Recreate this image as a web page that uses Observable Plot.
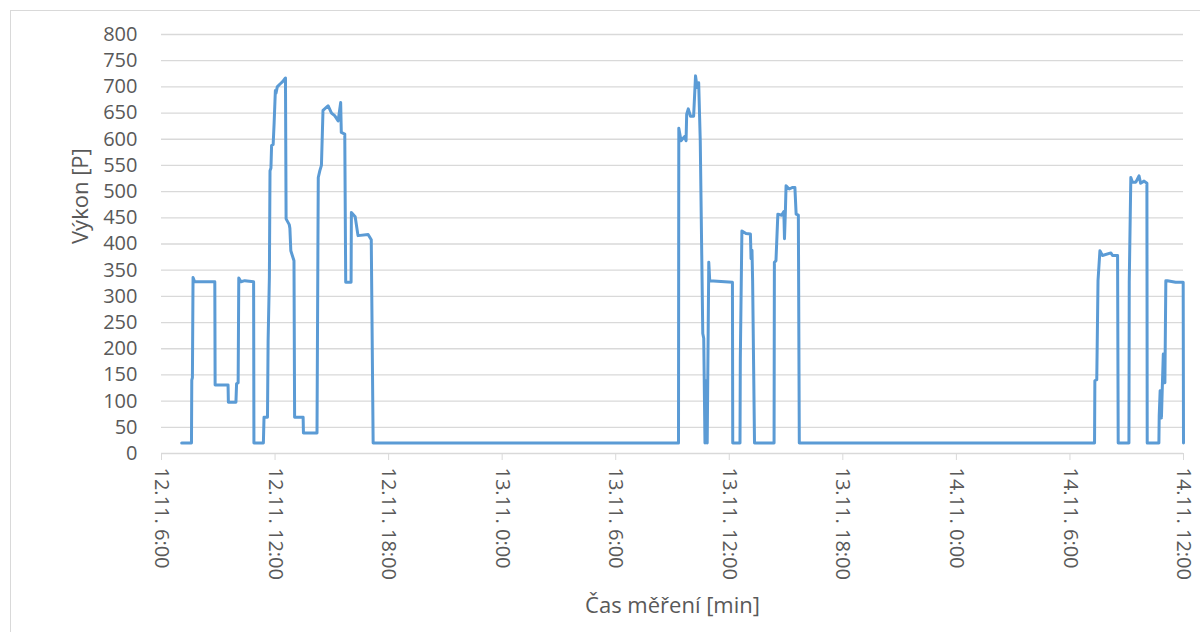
<!DOCTYPE html>
<html>
<head>
<meta charset="utf-8">
<script src="https://cdn.jsdelivr.net/npm/d3@7"></script>
<script src="https://cdn.jsdelivr.net/npm/@observablehq/plot@0.6"></script>
<style>
  html, body { margin: 0; padding: 0; background: #fff; }
  #wrap { position: relative; width: 1200px; height: 632px; overflow: hidden; }
  #border { position: absolute; left: 10px; top: 10px; width: 1220px; height: 660px; border: 1px solid #d9d9d9; box-sizing: border-box; }
  #chart { position: absolute; left: 0; top: 0; }
</style>
</head>
<body>
<div id="wrap"><div id="border"></div><div id="chart"></div></div>
<script>
const times = [
  "12.11. 7:04","12.11. 7:35","12.11. 7:36","12.11. 7:38","12.11. 7:40","12.11. 7:45","12.11. 8:49","12.11. 8:50",
  "12.11. 9:31","12.11. 9:32","12.11. 9:56","12.11. 9:58","12.11. 10:03","12.11. 10:05","12.11. 10:12","12.11. 10:24",
  "12.11. 10:52","12.11. 10:53","12.11. 11:23","12.11. 11:25","12.11. 11:36","12.11. 11:38","12.11. 11:42","12.11. 11:44",
  "12.11. 11:47","12.11. 11:49","12.11. 11:54","12.11. 11:57","12.11. 12:01","12.11. 12:03","12.11. 12:07","12.11. 12:15",
  "12.11. 12:24","12.11. 12:33","12.11. 12:35","12.11. 12:45","12.11. 12:47","12.11. 12:50","12.11. 13:00","12.11. 13:02",
  "12.11. 13:29","12.11. 13:30","12.11. 14:13","12.11. 14:15","12.11. 14:17","12.11. 14:22","12.11. 14:27","12.11. 14:32",
  "12.11. 14:48","12.11. 14:59","12.11. 15:09","12.11. 15:20","12.11. 15:28","12.11. 15:30","12.11. 15:41","12.11. 15:44",
  "12.11. 16:01","12.11. 16:02","12.11. 16:14","12.11. 16:23","12.11. 16:55","12.11. 17:05","12.11. 17:11",
  "13.11. 9:19","13.11. 9:20","13.11. 9:27","13.11. 9:38","13.11. 9:43","13.11. 9:45","13.11. 9:50","13.11. 9:57",
  "13.11. 10:07","13.11. 10:13","13.11. 10:18","13.11. 10:23","13.11. 10:28","13.11. 10:36","13.11. 10:39","13.11. 10:43",
  "13.11. 10:47","13.11. 10:50","13.11. 10:55","13.11. 10:58","13.11. 12:10","13.11. 12:11","13.11. 12:34","13.11. 12:35",
  "13.11. 12:40","13.11. 12:53","13.11. 13:07","13.11. 13:09","13.11. 13:12","13.11. 13:14","13.11. 13:20","13.11. 14:22",
  "13.11. 14:23","13.11. 14:28","13.11. 14:34","13.11. 14:46","13.11. 14:53","13.11. 14:55","13.11. 14:58","13.11. 15:00",
  "13.11. 15:10","13.11. 15:21","13.11. 15:28","13.11. 15:32","13.11. 15:39","13.11. 15:42",
  "14.11. 7:18","14.11. 7:19","14.11. 7:25","14.11. 7:29","14.11. 7:35","14.11. 7:43","14.11. 8:10","14.11. 8:15",
  "14.11. 8:31","14.11. 8:33","14.11. 9:07","14.11. 9:08","14.11. 9:13","14.11. 9:18","14.11. 9:29","14.11. 9:39",
  "14.11. 9:44","14.11. 9:55","14.11. 10:04","14.11. 10:05","14.11. 10:42","14.11. 10:43","14.11. 10:46","14.11. 10:50",
  "14.11. 10:53","14.11. 10:56","14.11. 11:01","14.11. 11:04","14.11. 11:09","14.11. 11:35","14.11. 11:59","14.11. 12:00"
];
const values = [
  20,20,140,145,336,328,328,131,
  131,98,98,133,135,335,328,330,
  328,20,20,69,69,216,336,540,
  545,588,590,630,693,688,700,705,
  710,717,448,437,430,387,368,69,
  69,39,39,286,527,540,550,655,
  664,650,645,635,670,613,610,327,
  327,460,452,416,418,408,20,
  20,621,597,605,597,648,658,644,
  644,721,699,708,597,229,220,20,
  139,20,365,330,327,20,20,181,
  425,420,419,372,388,330,20,20,
  365,368,457,455,462,410,465,511,
  505,508,508,457,455,20,
  20,139,141,330,387,378,383,378,
  378,20,20,327,527,518,518,530,
  516,520,516,20,20,72,120,68,
  130,190,135,330,330,327,327,20
];
const xTickTimes = ["12.11. 6:00","12.11. 12:00","12.11. 18:00","13.11. 0:00","13.11. 6:00","13.11. 12:00","13.11. 18:00","14.11. 0:00","14.11. 6:00","14.11. 12:00"];
const xTickLabels = ["12.11. 6:00","12.11. 12:00","12.11. 18:00","13.11. 0:00","13.11. 6:00","13.11. 12:00","13.11. 18:00","14.11. 0:00","14.11. 6:00","14.11. 12:00"];
const yTicks = [0,50,100,150,200,250,300,350,400,450,500,550,600,650,700,750,800];
const yTitle = "Výkon [P]";
const xTitle = "Čas měření [min]";

const parse = d3.utcParse("%d.%m. %H:%M");
const data = times.map((t, i) => ({time: parse(t), value: values[i]}));
const tickDates = xTickTimes.map(parse);
const labelOf = new Map(tickDates.map((d, i) => [+d, xTickLabels[i]]));

const font = "'Open Sans', 'Liberation Sans', sans-serif";
const chart = Plot.plot({
  width: 1200,
  height: 632,
  marginLeft: 161,
  marginRight: 17,
  marginTop: 34,
  marginBottom: 179,
  style: {fontFamily: font, fontSize: "20px", color: "#595959", background: "transparent", overflow: "visible"},
  x: {type: "utc", domain: [tickDates[0], tickDates[tickDates.length - 1]]},
  y: {domain: [0, 800]},
  marks: [
    Plot.gridY(yTicks.filter(d => d > 0), {stroke: "#d9d9d9", strokeOpacity: 1, strokeWidth: 1.3}),
    Plot.ruleY([0], {stroke: "#d9d9d9", strokeWidth: 1.5}),
    Plot.axisY(yTicks, {tickSize: 0, tickPadding: 24, label: null, fill: "#595959", fontSize: 20}),
    Plot.axisX(tickDates, {tickSize: 7, tickPadding: 7, tickRotate: 90, stroke: "#d9d9d9", strokeOpacity: 1, fill: "#595959", fontSize: 20, label: null, tickFormat: d => labelOf.get(+d)}),
    Plot.line(data, {x: "time", y: "value", stroke: "#5B9BD5", strokeWidth: 3, strokeLinejoin: "round", strokeLinecap: "round"}),
    Plot.text([yTitle], {text: d => d, frameAnchor: "left", dx: -81, rotate: -90, fill: "#595959", fontSize: 22}),
    Plot.text([xTitle], {text: d => d, frameAnchor: "bottom", dy: 159, fill: "#595959", fontSize: 22})
  ]
});
document.getElementById("chart").appendChild(chart);
</script>
</body>
</html>
